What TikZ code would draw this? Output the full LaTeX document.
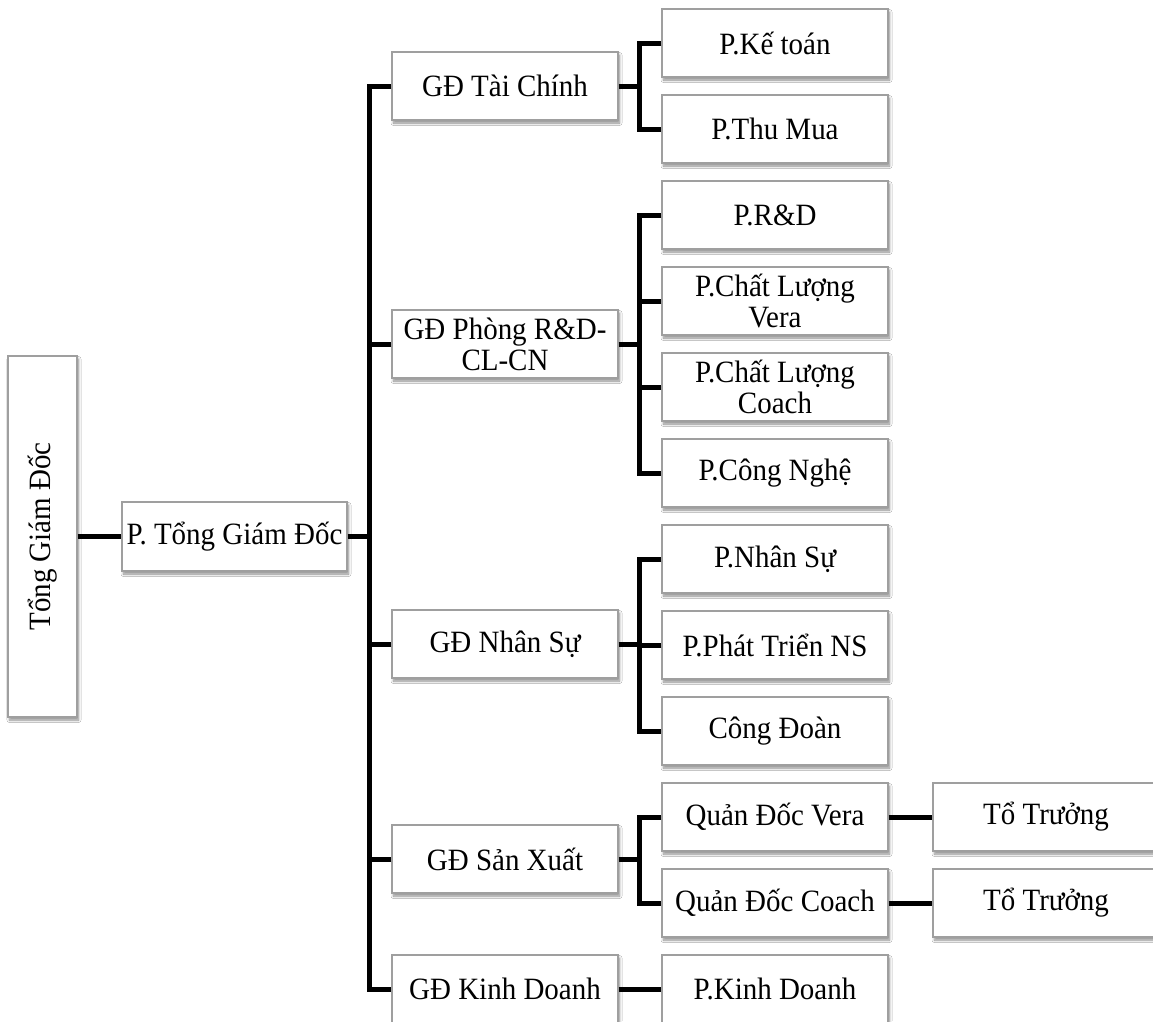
\documentclass[tikz,border=0pt]{standalone}
\usepackage{fontspec}
\setmainfont{Liberation Serif}[FakeStretch=0.935]
\usetikzlibrary{shadows.blur}
\tikzset{
  box/.style={draw=gray!75, line width=1.2pt, fill=white, inner sep=0pt,
    minimum width=226pt, minimum height=68pt, align=center,
    font=\fontsize{31}{31}\selectfont,
    blur shadow={shadow xshift=1.5pt, shadow yshift=-3pt, shadow blur steps=6, shadow blur radius=2.5pt, shadow opacity=45}},
  conn/.style={line width=5pt, black, line join=miter}
}
\begin{document}
\begin{tikzpicture}[x=1pt,y=-1pt]
\useasboundingbox (0,0) rectangle (1153,1021);
\fill[white] (0,0) rectangle (1153,1021);
\clip (0,0) rectangle (1153,1021);
% nodes
\node[box, minimum width=69pt, minimum height=361pt] (tgd) at (42.5,536.5) {\rotatebox{90}{Tổng Giám Đốc}};
\node[box, minimum width=225pt, minimum height=69pt] (ptgd) at (234.5,536.5) {P. Tổng Giám Đốc};
\node[box] (gdtc) at (505,86) {GĐ Tài Chính};
\node[box] (gdrd) at (505,344) {GĐ Phòng R\&D-\\CL-CN};
\node[box] (gdns) at (505,644) {GĐ Nhân Sự};
\node[box] (gdsx) at (505,859) {GĐ Sản Xuất};
\node[box] (gdkd) at (505,989) {GĐ Kinh Doanh};
\node[box] (pkt) at (775,43) {P.Kế toán};
\node[box] (ptm) at (775,129) {P.Thu Mua};
\node[box] (prd) at (775,215) {P.R\&D};
\node[box] (pclv) at (775,301) {P.Chất Lượng\\Vera};
\node[box] (pclc) at (775,387) {P.Chất Lượng\\Coach};
\node[box] (pcn) at (775,473) {P.Công Nghệ};
\node[box] (pns) at (775,559) {P.Nhân Sự};
\node[box] (pptns) at (775,645) {P.Phát Triển NS};
\node[box] (pcd) at (775,731) {Công Đoàn};
\node[box] (qdv) at (775,817) {Quản Đốc Vera};
\node[box] (qdc) at (775,903) {Quản Đốc Coach};
\node[box] (pkd) at (775,989) {P.Kinh Doanh};
\node[box] (tt1) at (1046,817) {Tổ Trưởng};
\node[box] (tt2) at (1046,903) {Tổ Trưởng};
% connectors
\draw[conn] (tgd.east) -- (ptgd.west);
\draw[conn] (ptgd.east) -- ++(22.5,0);
\draw[conn] (gdtc.west) -- ++(-22,0) |- (gdkd.west);
\draw[conn] (gdrd.west) -- ++(-22,0);
\draw[conn] (gdns.west) -- ++(-22,0);
\draw[conn] (gdsx.west) -- ++(-22,0);
\draw[conn] (gdtc.east) -- ++(22.5,0);
\draw[conn] (pkt.west) -- ++(-21.5,0) |- (ptm.west);
\draw[conn] (gdrd.east) -- ++(22.5,0);
\draw[conn] (prd.west) -- ++(-21.5,0) |- (pcn.west);
\draw[conn] (pclv.west) -- ++(-21.5,0);
\draw[conn] (pclc.west) -- ++(-21.5,0);
\draw[conn] (gdns.east) -- ++(22.5,0);
\draw[conn] (pns.west) -- ++(-21.5,0) |- (pcd.west);
\draw[conn] (pptns.west) -- ++(-21.5,0);
\draw[conn] (gdsx.east) -- ++(22.5,0);
\draw[conn] (qdv.west) -- ++(-21.5,0) |- (qdc.west);
\draw[conn] (qdv.east) -- (tt1.west);
\draw[conn] (qdc.east) -- (tt2.west);
\draw[conn] (gdkd.east) -- (pkd.west);
\end{tikzpicture}
\end{document}
